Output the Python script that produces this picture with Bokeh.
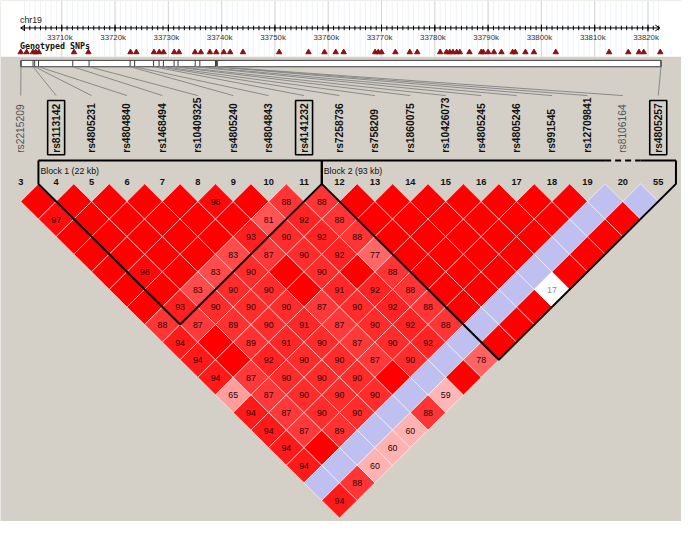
import math
from bokeh.plotting import figure
from bokeh.models import Range1d
from bokeh.embed import file_html
from bokeh.resources import INLINE
from bokeh.core.properties import value

# ---------------- data ----------------
chrom_label = "chr19"
marker_numbers = [3, 4, 5, 6, 7, 8, 9, 10, 11, 12, 13, 14, 15, 16, 17, 18, 19, 20, 55]
marker_names = ["rs2215209", "rs8113142", "rs4805231", "rs4804840", "rs1468494",
                "rs10409325", "rs4805240", "rs4804843", "rs4141232", "rs7258736",
                "rs758209", "rs1860075", "rs10426073", "rs4805245", "rs4805246",
                "rs991545", "rs12709841", "rs8106164", "rs4805257"]
marker_pos_kb = [33702.35, 33704.61, 33704.92, 33705.65, 33712.07, 33715.13,
                 33722.83, 33723.68, 33727.23, 33728.26, 33729.07, 33731.08,
                 33731.82, 33735.04, 33735.91, 33738.84, 33739.02, 33739.20,
                 33822.44]
plain_label_markers = [3, 20]
boxed_markers = [4, 11, 55]

genotyped_snps_kb = [33702.3, 33703.4, 33704.6, 33705.1, 33705.7, 33712.3, 33715.0,
                     33722.9, 33724.0, 33727.3, 33728.3, 33729.1, 33731.1, 33732.0,
                     33735.0, 33736.1, 33737.8, 33739.0, 33740.4, 33741.6, 33744.0,
                     33750.8, 33756.3, 33759.3, 33761.4, 33762.9, 33768.8, 33769.4,
                     33770.0, 33772.6, 33775.3, 33776.7, 33781.0, 33782.2, 33782.8,
                     33783.4, 33784.1, 33784.7, 33786.5, 33788.7, 33789.1, 33790.0,
                     33791.1, 33792.5, 33794.6, 33795.1, 33797.0, 33798.6, 33802.7,
                     33812.7, 33816.3, 33818.3, 33819.2, 33822.3]

axis_ticks_kb = [33710, 33720, 33730, 33740, 33750, 33760, 33770, 33780,
                 33790, 33800, 33810, 33820]
axis_tick_labels = ["33710k", "33720k", "33730k", "33740k", "33750k", "33760k",
                    "33770k", "33780k", "33790k", "33800k", "33810k", "33820k"]
axis_range_kb = [33702.3, 33822.2]

# D' (x100) for each marker (row) against every later marker
dprime_rows = [
    [100, 97, 100, 100, 100, 100, 100, 88, 94, 94, 94, 65, 94, 94, 94, 94, 100, 94],
    [100, 100, 100, 100, 98, 100, 93, 87, 100, 100, 87, 87, 87, 87, 100, 100, 88],
    [100, 100, 100, 100, 100, 83, 90, 89, 89, 92, 90, 90, 90, 89, 100, 60],
    [100, 100, 100, 100, 83, 90, 90, 90, 91, 90, 90, 90, 90, 100, 60],
    [100, 100, 100, 83, 90, 90, 90, 91, 90, 90, 90, 90, 100, 60],
    [98, 100, 93, 87, 100, 100, 87, 87, 87, 87, 100, 100, 88],
    [100, 81, 90, 90, 90, 91, 90, 90, 90, 90, 100, 59],
    [88, 92, 92, 92, 100, 92, 92, 92, 92, 100, 100],
    [88, 88, 88, 77, 88, 88, 88, 88, 100, 78],
    [100, 100, 100, 100, 100, 100, 100, 100, 100],
    [100, 100, 100, 100, 100, 100, 100, 100],
    [100, 100, 100, 100, 100, 100, 100],
    [100, 100, 100, 100, 100, 17],
    [100, 100, 100, 100, 100],
    [100, 100, 100, 100],
    [100, 100, 100],
    [100, 100],
    [100],
]
# pairs (marker numbers) whose LOD < 2
low_lod_pairs = [(3, 20), (4, 20), (5, 20), (6, 20), (7, 20), (8, 20), (9, 20),
                 (10, 20), (11, 20), (12, 20), (13, 20), (14, 20), (15, 20),
                 (16, 20), (17, 20), (18, 20), (19, 20), (20, 55), (15, 55)]

block_first_last = [(4, 11), (12, 55)]
block_labels = ["Block 1 (22 kb)", "Block 2 (93 kb)"]
block_excluded_markers = [20]

# ---------------- layout ----------------
REF_W, REF_H = 697, 537
W, H = 681, 521
SC = W / REF_W
BG = "#d4d0c8"
LD_X0, LD_STEP = 20.7, 36.25
HALF = LD_STEP / 2
LD_TOP = 189.0
GEN_X0, GEN_KB0, GEN_PX_PER_KB = 62.7, 33710.0, 600.0 / 110.0
SANS = value("Liberation Sans")


def fs(px):
    return f"{px * SC:.2f}px"


def gx(kb):
    return GEN_X0 + (kb - GEN_KB0) * GEN_PX_PER_KB


def mx(k):
    return LD_X0 + k * LD_STEP


def ld_color(d, low):
    if low:
        return "#c0c0f0" if d >= 100 else "#ffffff"
    if d >= 100:
        return "#ff0000"
    if d < 50:
        return "#ffe0e0"
    g = int(223 * 2 * (1 - d / 100.0))
    return "#ff%02x%02x" % (g, g)


p = figure(width=W, height=H, x_range=Range1d(0, REF_W), y_range=Range1d(REF_H, 0),
           output_backend="svg", toolbar_location=None, min_border=0)
p.axis.visible = False
p.grid.visible = False
p.outline_line_color = None
p.background_fill_color = BG
p.border_fill_color = BG

# ---- top genomic panel ----
p.quad(left=0, right=REF_W, top=0, bottom=58, fill_color="white", line_color=None)
kb_lo, kb_hi = int(math.ceil(axis_range_kb[0])), int(axis_range_kb[1])
minor = [k for k in range(kb_lo, kb_hi + 1)]
p.segment(x0=[gx(k) for k in minor], y0=0, x1=[gx(k) for k in minor], y1=58,
          line_color="#eef3f8", line_width=1)
p.segment(x0=[gx(k) for k in axis_ticks_kb], y0=0, x1=[gx(k) for k in axis_ticks_kb], y1=58,
          line_color="#d6d6d6", line_width=1)
ax_l, ax_r = gx(axis_range_kb[0]), gx(axis_range_kb[1])
AX_Y = 28.3
p.segment(x0=ax_l, y0=AX_Y, x1=ax_r, y1=AX_Y, line_color="black", line_width=1)
p.segment(x0=[ax_l, ax_l, ax_r, ax_r], y0=[AX_Y] * 4,
          x1=[ax_l + 4.5, ax_l + 4.5, ax_r - 4.5, ax_r - 4.5],
          y1=[AX_Y - 3, AX_Y + 3, AX_Y - 3, AX_Y + 3], line_color="black", line_width=1)
p.segment(x0=[gx(k) for k in minor], y0=AX_Y - 2.3, x1=[gx(k) for k in minor], y1=AX_Y + 2.3,
          line_color="black", line_width=1)
p.segment(x0=[gx(k) for k in axis_ticks_kb], y0=AX_Y - 3.5,
          x1=[gx(k) for k in axis_ticks_kb], y1=AX_Y + 3.5, line_color="black", line_width=1)
p.text(x=[gx(k) - 2 for k in axis_ticks_kb], y=38.5, text=axis_tick_labels,
       text_align="center", text_baseline="middle", text_font=SANS,
       text_font_size=fs(8), text_color="#333333")
p.text(x=[20], y=[20], text=[chrom_label], text_align="left", text_baseline="middle",
       text_font=SANS, text_font_size=fs(9), text_color="#222222")
p.text(x=[20], y=[47], text=["Genotyped SNPs"], text_align="left", text_baseline="middle",
       text_font=value("DejaVu Sans Mono"), text_font_style="bold",
       text_font_size=fs(8.5), text_color="#111111")
p.scatter(x=[gx(k) for k in genotyped_snps_kb], y=53.3, marker="triangle",
          size=5.5 * SC, fill_color="#8b1010", line_color="#8b1010")

# ---- marker bar ----
BAR_T, BAR_B = 61.7, 68.3
bl, br = gx(min(marker_pos_kb)), gx(max(marker_pos_kb))
p.quad(left=bl, right=br, top=BAR_T, bottom=BAR_B, fill_color="white",
       line_color="#3a3a3a", line_width=1)
p.segment(x0=[gx(k) for k in marker_pos_kb], y0=BAR_T, x1=[gx(k) for k in marker_pos_kb],
          y1=BAR_B, line_color="#3a3a3a", line_width=1)
p.segment(x0=[gx(k) for k in marker_pos_kb], y0=BAR_B,
          x1=[mx(i) for i in range(len(marker_numbers))], y1=98,
          line_color="#8a8a8a", line_width=1)

# ---- marker labels ----
LBL_Y = 157
bold_idx = [i for i, m in enumerate(marker_numbers) if m not in plain_label_markers]
plain_idx = [i for i, m in enumerate(marker_numbers) if m in plain_label_markers]
p.text(x=[mx(i) for i in bold_idx], y=LBL_Y, text=[marker_names[i] for i in bold_idx],
       angle=math.pi / 2, text_align="left", text_baseline="middle", text_font=SANS,
       text_font_style="bold", text_font_size=fs(10.5), text_color="#111111")
p.text(x=[mx(i) for i in plain_idx], y=LBL_Y, text=[marker_names[i] for i in plain_idx],
       angle=math.pi / 2, text_align="left", text_baseline="middle", text_font=SANS,
       text_font_size=fs(10.5), text_color="#555555")
box_idx = [marker_numbers.index(m) for m in boxed_markers]
p.quad(left=[mx(i) - 8.7 for i in box_idx], right=[mx(i) + 8.7 for i in box_idx],
       top=103, bottom=159, fill_color=None, line_color="black", line_width=1.6)
p.text(x=[mx(i) for i in range(len(marker_numbers))], y=187,
       text=[str(m) for m in marker_numbers], text_align="center", text_baseline="middle",
       text_font=SANS, text_font_style="bold", text_font_size=fs(9.5), text_color="#111111")

# ---- LD cells ----
low_set = set(low_lod_pairs)
dxs, dys, cols, tx, ty, tt, tc = [], [], [], [], [], [], []
for i, row in enumerate(dprime_rows):
    for off, d in enumerate(row):
        j = i + 1 + off
        cxx = (mx(i) + mx(j)) / 2
        cyy = LD_TOP + (j - i) * HALF
        low = (marker_numbers[i], marker_numbers[j]) in low_set
        dxs.append([cxx - HALF, cxx, cxx + HALF, cxx])
        dys.append([cyy, cyy - HALF, cyy, cyy + HALF])
        cols.append(ld_color(d, low))
        if d < 100:
            tx.append(cxx)
            ty.append(cyy + 0.5)
            tt.append(str(d))
            tc.append("#8a8a8a" if low else "#2a0505")
p.patches(xs=dxs, ys=dys, fill_color=cols, line_color="white", line_alpha=0.55, line_width=1)
p.text(x=tx, y=ty, text=tt, text_color=tc, text_align="center", text_baseline="middle",
       text_font=SANS, text_font_size=fs(9))

# ---- blocks ----
TOPLINE_Y = 165
for (a, b), lab in zip(block_first_last, block_labels):
    ia, ib = marker_numbers.index(a), marker_numbers.index(b)
    left, right = mx(ia) - HALF, mx(ib) + HALF
    mid = (left + right) / 2
    bottom = LD_TOP + (right - left) / 2
    dashed = []
    for m in block_excluded_markers:
        k = marker_numbers.index(m)
        if ia <= k <= ib:
            dashed.append((mx(k) - HALF, mx(k) + HALF))
    x = left
    for (dl, dr) in dashed:
        p.segment(x0=x, y0=TOPLINE_Y, x1=dl, y1=TOPLINE_Y, line_color="black", line_width=2)
        p.segment(x0=dl, y0=TOPLINE_Y, x1=dr, y1=TOPLINE_Y, line_color="black",
                  line_width=2, line_dash="6 4")
        x = dr
    p.segment(x0=x, y0=TOPLINE_Y, x1=right, y1=TOPLINE_Y, line_color="black", line_width=2)
    p.line(x=[left, left, mid, right, right], y=[TOPLINE_Y, LD_TOP, bottom, LD_TOP, TOPLINE_Y],
           line_color="black", line_width=2)
    p.text(x=[left + 2], y=[176], text=[lab], text_align="left", text_baseline="middle",
           text_font=SANS, text_font_size=fs(9), text_color="#111111")

open("out.html", "w").write(file_html(p, INLINE))
